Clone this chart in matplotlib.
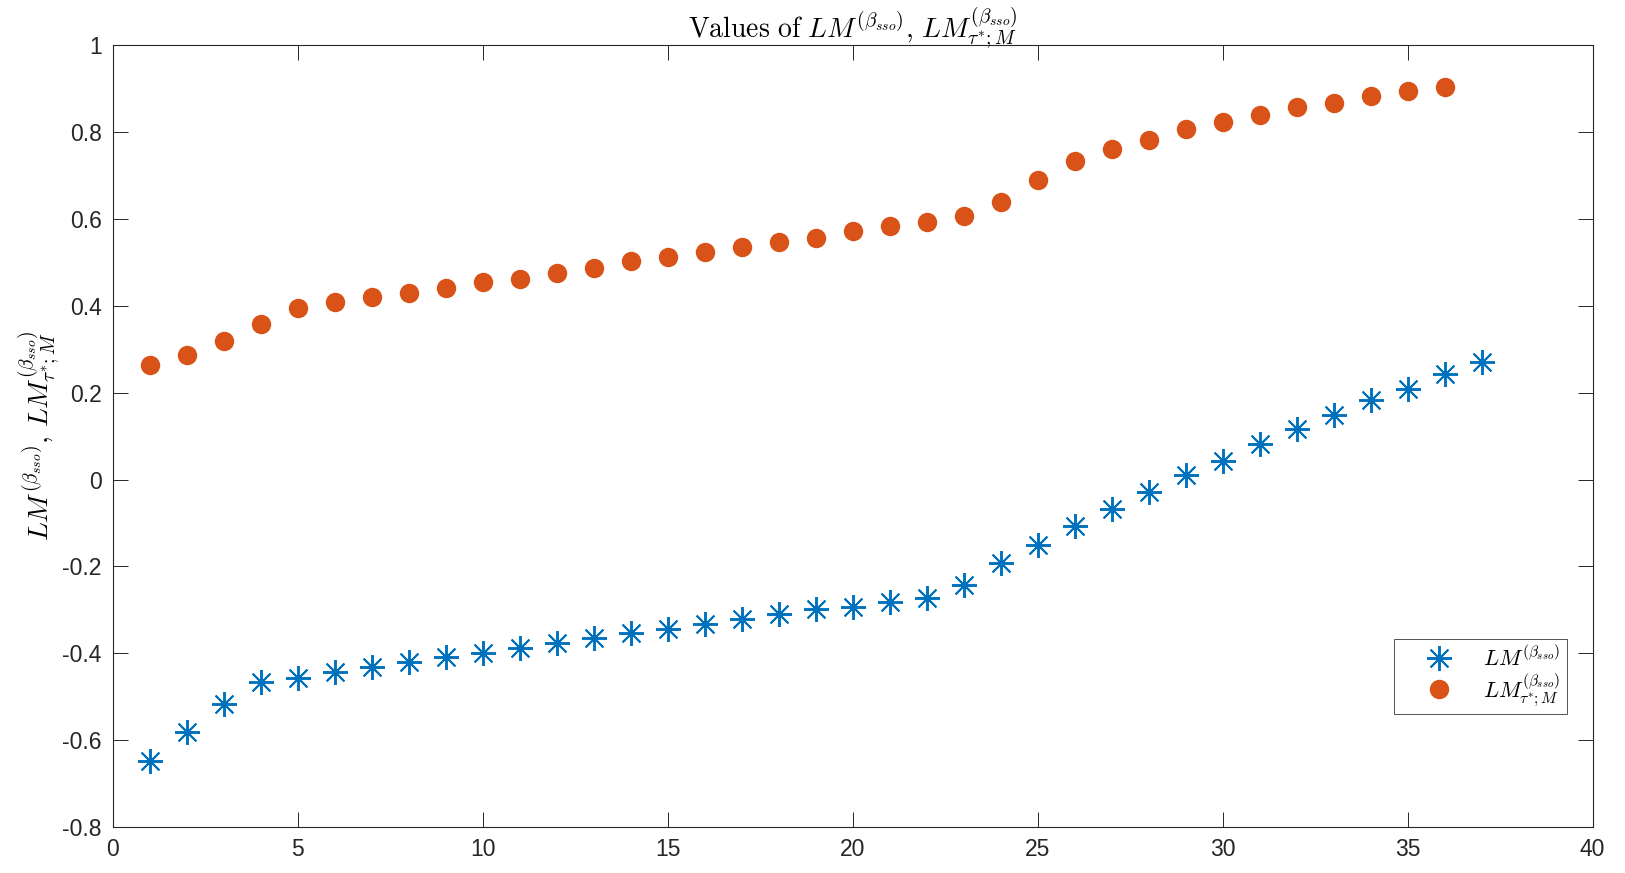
import matplotlib
matplotlib.use('Agg')
import matplotlib.pyplot as plt
from matplotlib.ticker import FuncFormatter

plt.rcParams['mathtext.fontset'] = 'cm'
plt.rcParams['font.family'] = ['Liberation Sans', 'DejaVu Sans']
plt.rcParams['axes.unicode_minus'] = False

# values
x_lm = list(range(1, 38))
lm = [-0.649, -0.582, -0.516, -0.465, -0.456, -0.444, -0.432, -0.420, -0.408, -0.399,
      -0.387, -0.377, -0.365, -0.353, -0.344, -0.332, -0.322, -0.310, -0.298, -0.294,
      -0.282, -0.272, -0.243, -0.193, -0.150, -0.107, -0.067, -0.029, 0.010, 0.043,
      0.081, 0.117, 0.148, 0.184, 0.208, 0.243, 0.270]

x_lm_tau = list(range(1, 37))
lm_tau = [0.265, 0.286, 0.320, 0.358, 0.396, 0.408, 0.420, 0.430, 0.442, 0.454,
          0.463, 0.475, 0.487, 0.504, 0.513, 0.525, 0.535, 0.547, 0.556, 0.573,
          0.585, 0.594, 0.606, 0.640, 0.690, 0.733, 0.762, 0.783, 0.807, 0.824,
          0.840, 0.857, 0.867, 0.883, 0.895, 0.905]

xticks = list(range(0, 41, 5))
yticks = [-0.8, -0.6, -0.4, -0.2, 0, 0.2, 0.4, 0.6, 0.8, 1]

lab1 = r'$LM^{(\beta_{sso})}$'
lab2 = r'$LM^{(\beta_{sso})}_{\tau^{*};M}$'

fig = plt.figure(figsize=(16.25, 8.73), dpi=100)
ax = fig.add_axes([0.0695, 0.0527, 0.9105, 0.8953])

ax.plot(x_lm, lm, linestyle='none', marker=(8, 2, 0), markersize=18,
        markeredgewidth=1.4, color='#0072BD', label=lab1)
ax.plot(x_lm_tau, lm_tau, linestyle='none', marker='o', markersize=14,
        markeredgewidth=0, color='#D95319', label=lab2)

ax.set_xlim(0, 40)
ax.set_ylim(-0.8, 1)
ax.set_xticks(xticks)
ax.set_yticks(yticks)
fmt = FuncFormatter(lambda v, p: ('%g' % round(v, 2)))
ax.xaxis.set_major_formatter(fmt)
ax.yaxis.set_major_formatter(fmt)
ax.tick_params(direction='in', length=10.5, width=0.7, colors='#262626',
               labelsize=16.5, top=True, right=True, pad=8)
for s in ax.spines.values():
    s.set_linewidth(0.8)
    s.set_color('#262626')

ax.set_title(r'$\mathrm{Values\ of\ }LM^{(\beta_{sso})},\,LM^{(\beta_{sso})}_{\tau^{*};M}$',
             fontsize=20, pad=5)
ax.set_ylabel(r'$LM^{(\beta_{sso})},\,LM^{(\beta_{sso})}_{\tau^{*};M}$', fontsize=20, labelpad=0)

leg = ax.legend(loc='lower right', bbox_to_anchor=(0.99, 0.13), fontsize=16,
                frameon=True, fancybox=False, edgecolor='#262626', borderpad=0.3,
                handletextpad=0.3, labelspacing=0.0, handlelength=3.4)
leg.get_frame().set_linewidth(0.7)

fig.savefig('out.png', dpi=100)
